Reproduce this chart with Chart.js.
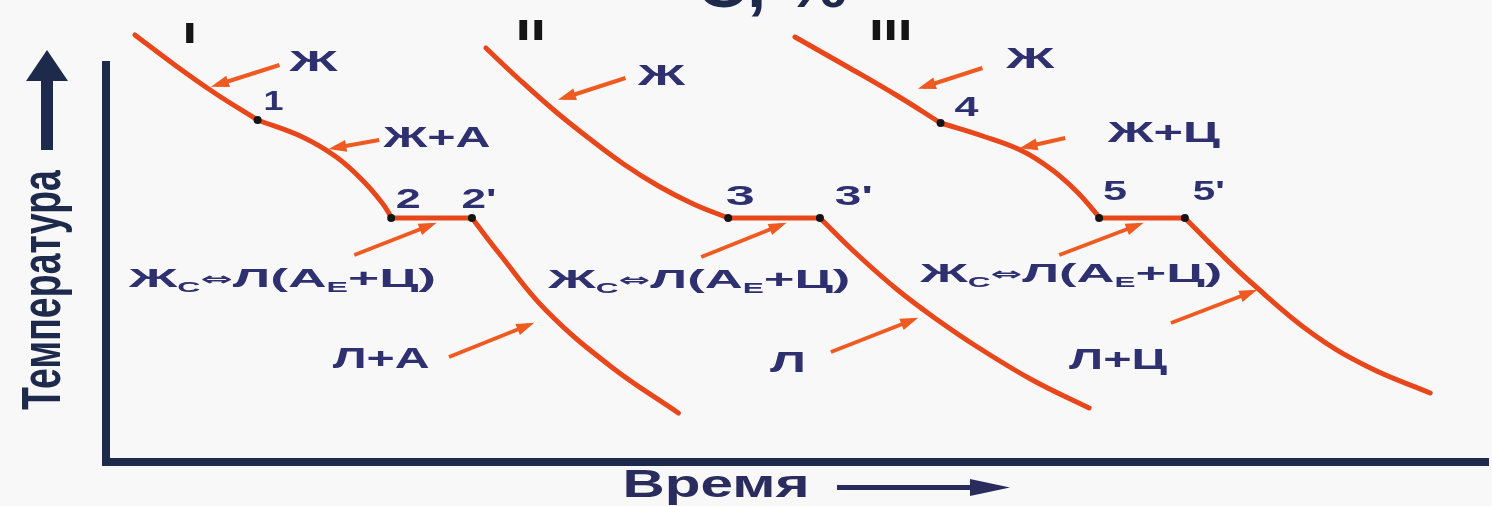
<!DOCTYPE html>
<html>
<head>
<meta charset="utf-8">
<script src="https://cdn.jsdelivr.net/npm/chart.js@4/dist/chart.umd.min.js"></script>
<style>
  html, body { margin: 0; padding: 0; background: #f8f8f8; }
  canvas { display: block; }
</style>
</head>
<body>
<canvas id="chart" width="1492" height="506"></canvas>
<script>
// cooling curves: [time, temperature]
// alloy I (hypoeutectic)
const liquidI = [[135, 427], [175, 397], [215, 369], [258, 342]];
const mushyI = [[258, 342], [303, 325], [337, 305], [363, 282], [383, 259], [392, 245]];
const plateauI = [[392, 244], [473, 244]];
const solidI = [[473, 244], [500, 209], [547, 152], [613, 95], [680, 49]];

// alloy II (eutectic)
const liquidII = [[487, 414], [520, 383], [555, 352], [590, 324], [625, 298], [660, 276], [695, 258], [730, 244]];
const plateauII = [[730, 244], [822, 244]];
const solidII = [[822, 244], [860, 207], [900, 172], [940, 142], [980, 115], [1035, 82], [1092, 54]];

// alloy III (hypereutectic)
const liquidIII = [[797, 425], [850, 395], [900, 366], [943, 339]];
const mushyIII = [[943, 339], [985, 326], [1025, 311], [1055, 292], [1080, 270], [1102, 245]];
const plateauIII = [[1102, 244], [1188, 244]];
const solidIII = [[1188, 244], [1220, 212], [1255, 179], [1315, 129], [1372, 95], [1434, 69]];

// critical points 1, 2, 2', 3, 3', 4, 5, 5'
const critPoints = [[258, 342], [392, 244], [473, 244], [730, 244], [822, 244], [943, 339], [1102, 244], [1188, 244]];

// pointer arrows: [tail time, tail temp, tip time, tip temp]
const pointers = [
  [280, 397, 217, 377], [380, 322, 335, 314], [355, 207, 432, 237], [450, 105, 530, 137],
  [627, 384, 565, 364], [703, 205, 783, 237], [833, 110, 915, 142],
  [985, 394, 926, 375], [1068, 324, 1028, 315], [1062, 207, 1141, 237], [1174, 139, 1255, 170]
];

const ORANGE = '#e8471b';
const ARROW = '#ef5a21';
const NAVY = '#1d2a4c';
const INK = '#2e3070';
const FONT = '"Liberation Sans", Arial, "DejaVu Sans", sans-serif';

const pts = a => a.map(([x, y]) => ({ x, y }));

const curves = [liquidI, mushyI, plateauI, solidI, liquidII, plateauII, solidII, liquidIII, mushyIII, plateauIII, solidIII];

const datasets = [{
  data: pts(critPoints),
  showLine: false,
  pointRadius: 4,
  pointBackgroundColor: '#151515',
  pointBorderWidth: 0,
  clip: false,
  order: 0
}];
curves.forEach(c => datasets.push({
  data: pts(c),
  borderColor: ORANGE,
  borderWidth: 5,
  pointRadius: 0,
  tension: 0.4,
  borderCapStyle: 'round',
  clip: false,
  order: 1
}));
pointers.forEach(p => datasets.push({
  data: [{ x: p[0], y: p[1] }, { x: p[2], y: p[3] }],
  borderColor: ARROW,
  borderWidth: 4,
  pointRadius: 0,
  arrow: true,
  clip: false,
  order: 2
}));

// text annotations, anchored in chart coordinates
const labels = [
  { t: 'I', x: 190, y: 427, size: 30, w: 14, c: '#151515' },
  { t: 'II', x: 532, y: 430, size: 30, w: 30, c: '#151515' },
  { t: 'III', x: 893, y: 430, size: 30, w: 43, c: '#151515' },
  { t: 'Ж', x: 314, y: 399, size: 30, w: 48 },
  { t: '1', x: 274, y: 360, size: 28, w: 20 },
  { t: 'Ж+А', x: 438, y: 323, size: 30, w: 107 },
  { t: '2', x: 409, y: 262, size: 28, w: 25 },
  { t: "2'", x: 480, y: 262, size: 28, w: 35 },
  { t: 'Л+А', x: 382, y: 102, size: 30, w: 97 },
  { t: 'Ж', x: 663, y: 385, size: 30, w: 47 },
  { t: '3', x: 742, y: 265, size: 28, w: 29 },
  { t: "3'", x: 856, y: 265, size: 28, w: 38 },
  { t: 'Л', x: 790, y: 98, size: 30, w: 36 },
  { t: 'Ж', x: 1033, y: 402, size: 30, w: 48 },
  { t: '4', x: 969, y: 354, size: 28, w: 24 },
  { t: 'Ж+Ц', x: 1167, y: 328, size: 30, w: 112 },
  { t: '5', x: 1118, y: 270, size: 28, w: 24 },
  { t: "5'", x: 1212, y: 270, size: 28, w: 32 },
  { t: 'Л+Ц', x: 1121, y: 101, size: 30, w: 98 }
];
const eutectic = [
  { x: 283, y: 182, w: 307 },
  { x: 701, y: 181, w: 302 },
  { x: 1074, y: 187, w: 302 }
];
const eutRuns = [
  { t: 'Ж' }, { t: 'С', sub: true }, { t: '⇔', op: true }, { t: 'Л(А' }, { t: 'Е', sub: true }, { t: '+Ц)' }
];

function stretchText(ctx, text, x, y, size, w, color) {
  ctx.save();
  ctx.font = 'bold ' + size + 'px ' + FONT;
  ctx.fillStyle = color || INK;
  ctx.textBaseline = 'middle';
  ctx.textAlign = 'left';
  const nat = ctx.measureText(text).width;
  const sx = w ? w / nat : 1.6;
  ctx.translate(x - nat * sx / 2, y);
  ctx.scale(sx, 1);
  ctx.fillText(text, 0, 0);
  ctx.restore();
}

function runFont(r) {
  if (r.sub) return 'bold 15px ' + FONT;
  if (r.op) return 'bold 18px "DejaVu Sans", ' + FONT;
  return 'bold 25px ' + FONT;
}

const arrowHeads = {
  id: 'arrowHeads',
  afterDatasetsDraw(chart) {
    const ctx = chart.ctx;
    chart.data.datasets.forEach((ds, i) => {
      if (!ds.arrow) return;
      const d = chart.getDatasetMeta(i).data;
      const a = d[0], b = d[1];
      const ang = Math.atan2(b.y - a.y, b.x - a.x);
      ctx.save();
      ctx.translate(b.x, b.y);
      ctx.rotate(ang);
      ctx.beginPath();
      ctx.moveTo(6, 0);
      ctx.lineTo(-12, -6);
      ctx.lineTo(-12, 6);
      ctx.closePath();
      ctx.fillStyle = ds.borderColor;
      ctx.fill();
      ctx.restore();
    });
  }
};

const annotations = {
  id: 'annotations',
  afterDraw(chart) {
    const ctx = chart.ctx;
    const sx = chart.scales.x, sy = chart.scales.y;
    const area = chart.chartArea;

    labels.forEach(l => stretchText(ctx, l.t, sx.getPixelForValue(l.x), sy.getPixelForValue(l.y), l.size, l.w, l.c));

    eutectic.forEach(e => {
      ctx.save();
      ctx.fillStyle = INK;
      ctx.textBaseline = 'middle';
      ctx.textAlign = 'left';
      let nat = 0;
      eutRuns.forEach(r => { ctx.font = runFont(r); nat += ctx.measureText(r.t).width; });
      const k = e.w / nat;
      ctx.translate(sx.getPixelForValue(e.x) - e.w / 2, sy.getPixelForValue(e.y));
      ctx.scale(k, 1);
      let cx = 0;
      eutRuns.forEach(r => {
        ctx.font = runFont(r);
        ctx.fillText(r.t, cx, r.sub ? 8 : 0);
        cx += ctx.measureText(r.t).width;
      });
      ctx.restore();
    });

    // top caption, cropped by the picture's edge
    stretchText(ctx, 'С, %', 772, -10, 62, 150, NAVY);

    // y axis title with arrow
    ctx.save();
    ctx.fillStyle = NAVY;
    ctx.font = 'bold 38px ' + FONT;
    const tw = ctx.measureText('Температура').width;
    ctx.translate(44, 290);
    ctx.scale(1.5, 1);
    ctx.rotate(-Math.PI / 2);
    ctx.textAlign = 'center';
    ctx.textBaseline = 'middle';
    ctx.font = 'bold ' + (38 * 240 / tw) + 'px ' + FONT;
    ctx.fillText('Температура', 0, 0);
    ctx.restore();
    ctx.save();
    ctx.fillStyle = NAVY;
    ctx.fillRect(41, 78, 12, 72);
    ctx.beginPath();
    ctx.moveTo(26, 81);
    ctx.lineTo(68, 81);
    ctx.lineTo(47, 50);
    ctx.closePath();
    ctx.fill();
    ctx.restore();

    // x axis title with arrow
    stretchText(ctx, 'Время', 716, area.bottom + 25, 38, 187, '#2a2c5e');
    ctx.save();
    ctx.fillStyle = '#2a2c5e';
    ctx.fillRect(837, area.bottom + 23, 138, 5);
    ctx.beginPath();
    ctx.moveTo(970, area.bottom + 17);
    ctx.lineTo(1010, area.bottom + 25.5);
    ctx.lineTo(970, area.bottom + 34);
    ctx.closePath();
    ctx.fill();
    ctx.restore();
  }
};

new Chart(document.getElementById('chart'), {
  type: 'line',
  data: { datasets },
  options: {
    responsive: false,
    animation: false,
    devicePixelRatio: 1,
    layout: { padding: { left: 106, top: 65, right: 0, bottom: 44 } },
    plugins: { legend: { display: false }, tooltip: { enabled: false } },
    scales: {
      x: {
        type: 'linear', min: 106, max: 1492,
        ticks: { display: false },
        grid: { display: false, drawTicks: false },
        border: { display: true, color: NAVY, width: 8 }
      },
      y: {
        type: 'linear', min: 0, max: 397,
        ticks: { display: false },
        grid: { display: false, drawTicks: false },
        border: { display: true, color: NAVY, width: 8 }
      }
    }
  },
  plugins: [arrowHeads, annotations]
});
</script>
</body>
</html>
